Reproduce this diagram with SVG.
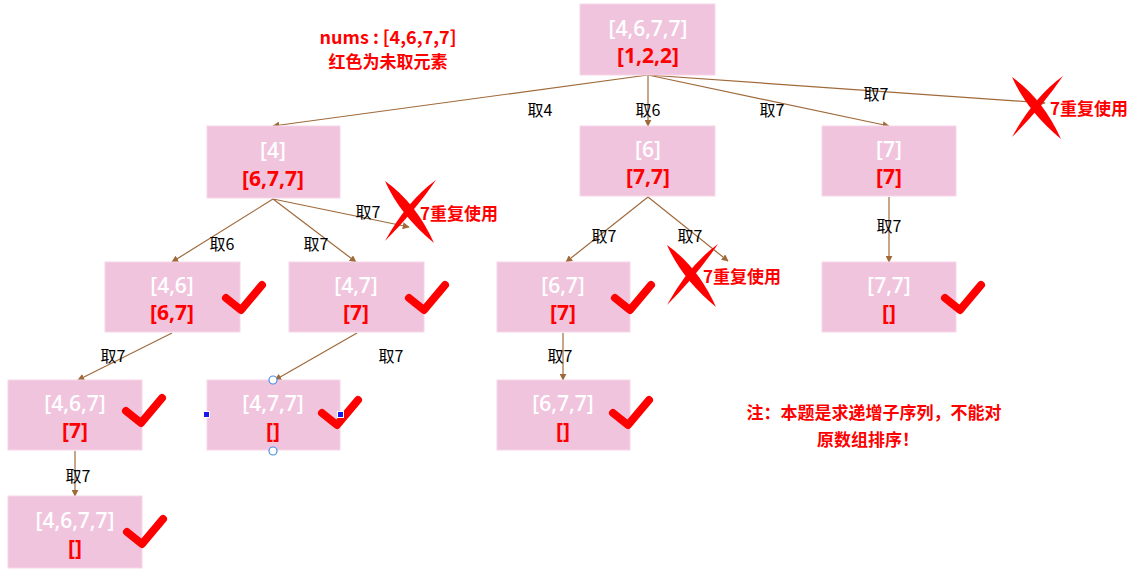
<svg xmlns="http://www.w3.org/2000/svg" width="1137" height="576" viewBox="0 0 1137 576">
<defs>
<style>
.box{fill:#F1C4DE;stroke:#F6D6E8;stroke-width:1}
.t1{font-family:"Open Sans","Noto Sans",sans-serif;font-size:21px;font-weight:600;fill:#FFFFFF;text-anchor:middle;dominant-baseline:central}
.t2{font-family:"Noto Sans","Noto Sans CJK SC",sans-serif;font-size:21px;font-weight:bold;fill:#FF0000;text-anchor:middle;dominant-baseline:central}
.lbl{font-family:"Noto Sans CJK SC",sans-serif;font-size:16px;fill:#000;text-anchor:middle;dominant-baseline:central}
.red{font-family:"Noto Sans CJK SC",sans-serif;font-size:17px;font-weight:bold;fill:#FF0000;dominant-baseline:central}
.edge{stroke:#A0693A;stroke-width:1.2;fill:none;marker-end:url(#ah)}
.chk{stroke:#FF0000;stroke-width:8;fill:none;stroke-linecap:round;stroke-linejoin:round}
.x{fill:#FF0000}
.hc{fill:#FFFFFF;stroke:#4A90E2;stroke-width:1.2}
.hs{fill:#1A1AE6;stroke:#FFFFFF;stroke-width:1}
</style>
<marker id="ah" viewBox="0 0 10 10" refX="9" refY="5" markerWidth="7" markerHeight="7" orient="auto" markerUnits="userSpaceOnUse">
<path d="M0,0 L10,5 L0,10 Z" fill="#A0693A"/>
</marker>
<path id="check" d="M0,0 L15,12 L36,-13" class="chk"/>
<g id="xmark">
<path class="x" d="M-25,-30 Q6,-8 24,32 Q-10,4 -25,-30 Z"/>
<path class="x" d="M26,-31 Q5,0 -25,30 Q-3,-10 26,-31 Z"/>
</g>
</defs>

<g id="connectors">
<line class="edge" x1="648" y1="75" x2="273" y2="126"/>
<line class="edge" x1="648" y1="75" x2="648" y2="126"/>
<line class="edge" x1="648" y1="75" x2="889" y2="126"/>
<line class="edge" x1="648" y1="75" x2="1045" y2="103"/>
<line class="edge" x1="273" y1="199" x2="172" y2="262"/>
<line class="edge" x1="273" y1="199" x2="356" y2="262"/>
<line class="edge" x1="273" y1="199" x2="409" y2="227"/>
<line class="edge" x1="648" y1="197" x2="566" y2="262"/>
<line class="edge" x1="648" y1="197" x2="728" y2="261"/>
<line class="edge" x1="889" y1="197" x2="889" y2="262"/>
<line class="edge" x1="172" y1="333" x2="78" y2="380"/>
<line class="edge" x1="357" y1="333" x2="275" y2="380"/>
<line class="edge" x1="563" y1="333" x2="563" y2="380"/>
<line class="edge" x1="75" y1="451" x2="75" y2="496"/>
<text class="lbl" x="540" y="109">取4</text>
<text class="lbl" x="648" y="109">取6</text>
<text class="lbl" x="772" y="109">取7</text>
<text class="lbl" x="876" y="93">取7</text>
<text class="lbl" x="222" y="243">取6</text>
<text class="lbl" x="316" y="243">取7</text>
<text class="lbl" x="368" y="211">取7</text>
<text class="lbl" x="604" y="235">取7</text>
<text class="lbl" x="690" y="235">取7</text>
<text class="lbl" x="889" y="225">取7</text>
<text class="lbl" x="113" y="355">取7</text>
<text class="lbl" x="391" y="355">取7</text>
<text class="lbl" x="560" y="355">取7</text>
<text class="lbl" x="78" y="475">取7</text>
</g>

<g id="n-root"><rect class="box" x="580" y="4" width="135" height="71"/><text class="t1" x="648" y="28">[4,6,7,7]</text><text class="t2" x="648" y="55">[1,2,2]</text></g>
<g id="n-4"><rect class="box" x="207" y="126" width="133" height="72"/><text class="t1" x="273" y="150">[4]</text><text class="t2" x="273" y="178">[6,7,7]</text></g>
<g id="n-6"><rect class="box" x="580" y="126" width="135" height="70"/><text class="t1" x="648" y="149">[6]</text><text class="t2" x="648" y="176">[7,7]</text></g>
<g id="n-7"><rect class="box" x="822" y="126" width="134" height="70"/><text class="t1" x="889" y="149">[7]</text><text class="t2" x="889" y="176">[7]</text></g>
<g id="n-46"><rect class="box" x="105" y="262" width="135" height="70"/><text class="t1" x="172" y="285">[4,6]</text><text class="t2" x="172" y="312">[6,7]</text><use href="#check" x="226" y="298"/></g>
<g id="n-47"><rect class="box" x="289" y="262" width="135" height="70"/><text class="t1" x="356" y="285">[4,7]</text><text class="t2" x="356" y="312">[7]</text><use href="#check" x="409" y="298"/></g>
<g id="n-67"><rect class="box" x="497" y="262" width="133" height="70"/><text class="t1" x="563" y="285">[6,7]</text><text class="t2" x="563" y="312">[7]</text><use href="#check" x="615" y="298"/></g>
<g id="n-77"><rect class="box" x="822" y="262" width="134" height="70"/><text class="t1" x="889" y="285">[7,7]</text><text class="t2" x="889" y="312">[]</text><use href="#check" x="945" y="298"/></g>
<g id="n-467"><rect class="box" x="8" y="380" width="134" height="70"/><text class="t1" x="75" y="403">[4,6,7]</text><text class="t2" x="75" y="430">[7]</text><use href="#check" x="126" y="411"/></g>
<g id="n-477"><rect class="box" x="207" y="380" width="133" height="70"/><text class="t1" x="273" y="403">[4,7,7]</text><text class="t2" x="273" y="430">[]</text><use href="#check" x="322" y="413"/>
<circle class="hc" cx="273" cy="380" r="4"/><circle class="hc" cx="273" cy="451" r="4"/>
<rect class="hs" x="203.5" y="411.5" width="6" height="6"/><rect class="hs" x="337.5" y="411.5" width="6" height="6"/></g>
<g id="n-677"><rect class="box" x="497" y="380" width="133" height="70"/><text class="t1" x="563" y="403">[6,7,7]</text><text class="t2" x="563" y="430">[]</text><use href="#check" x="613" y="413"/></g>
<g id="n-4677"><rect class="box" x="8" y="496" width="134" height="72"/><text class="t1" x="75" y="520">[4,6,7,7]</text><text class="t2" x="75" y="547">[]</text><use href="#check" x="127" y="532"/></g>

<g id="dup-1"><use href="#xmark" x="410" y="211"/><text class="red" x="420" y="212">7重复使用</text></g>
<g id="dup-2"><use href="#xmark" x="692" y="275"/><text class="red" x="703" y="275">7重复使用</text></g>
<g id="dup-3"><use href="#xmark" x="1037" y="107"/><text class="red" x="1050" y="107">7重复使用</text></g>

<g id="note-nums"><text class="red" x="388" y="36" text-anchor="middle" style="font-size:18px">nums : [4,6,7,7]</text><text class="red" x="388" y="60" text-anchor="middle">红色为未取元素</text></g>
<g id="note-sort"><text class="red" x="874" y="411" text-anchor="middle">注：本题是求递增子序列，不能对</text><text class="red" x="868" y="438" text-anchor="middle">原数组排序！</text></g>
</svg>
